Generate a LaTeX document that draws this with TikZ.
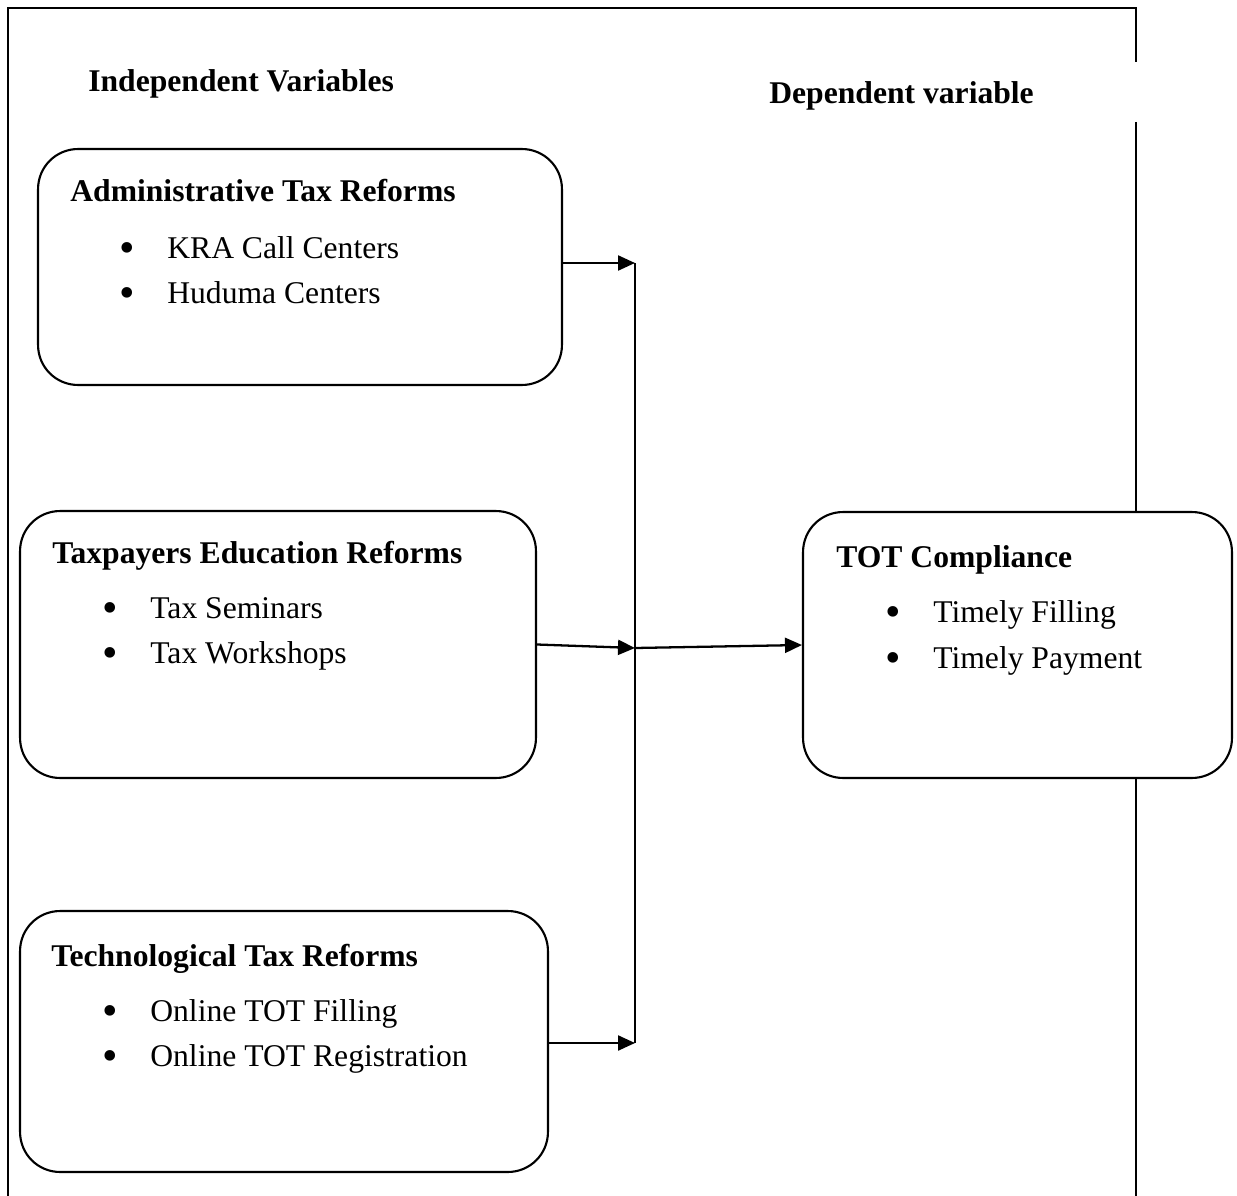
\documentclass[tikz,border=0pt]{standalone}
\usepackage{fontspec}
\setmainfont{Liberation Serif}
\usetikzlibrary{arrows.meta}
\newcommand{\blt}{\makebox[0.96cm][l]{\raisebox{-2.5pt}{\scalebox{1.4}{\textbullet}}}}
\begin{document}
\begin{tikzpicture}[x=0.02cm,y=-0.02cm,
  every node/.style={font=\fontsize{18}{22}\selectfont, inner sep=0pt},
  varbox/.style={draw, line width=1.2pt, rounded corners=0.8cm, fill=white},
  heading/.style={anchor=base west, font=\fontsize{18}{22}\selectfont\bfseries},
  item/.style={anchor=base west},
  arr/.style={-{Triangle[length=0.34cm,width=0.3cm]}, line width=1.3pt}]
\useasboundingbox (0,0) rectangle (1237,1196);

\draw[line width=1.4pt] (1136,62) -- (1136,8) -- (8,8) -- (8,1196);
\draw[line width=1.4pt] (1136,122) -- (1136,1196);

\node[heading] (indep) at (88,92) {Independent Variables};
\node[heading] (dep) at (769,104) {Dependent variable};

\node[varbox, minimum width=10.48cm, minimum height=4.72cm] (adm) at (300,267) {};
\node[heading] (admT) at (70,202) {Administrative Tax Reforms};
\node[item] (admA) at (119,258) {\blt KRA Call Centers};
\node[item] (admB) at (119,303) {\blt Huduma Centers};

\node[varbox, minimum width=10.32cm, minimum height=5.34cm] (edu) at (278,644.5) {};
\node[heading] (eduT) at (52,563) {Taxpayers Education Reforms};
\node[item] (eduA) at (102,618) {\blt Tax Seminars};
\node[item] (eduB) at (102,663) {\blt Tax Workshops};

\node[varbox, minimum width=10.56cm, minimum height=5.22cm] (tech) at (284,1041.5) {};
\node[heading] (techT) at (51,966) {Technological Tax Reforms};
\node[item] (techA) at (102,1021) {\blt Online TOT Filling};
\node[item] (techB) at (102,1066) {\blt Online TOT Registration};

\node[varbox, minimum width=8.58cm, minimum height=5.32cm] (tot) at (1017.5,645) {};
\node[heading] (totT) at (836,567) {TOT Compliance};
\node[item] (totA) at (885,622) {\blt Timely Filling};
\node[item] (totB) at (885,668) {\blt Timely Payment};

\coordinate (jtop) at (635,263);
\coordinate (jmid) at (635,648);
\coordinate (jbot) at (635,1043);
\draw[line width=1.3pt] (jtop) -- (jbot);
\draw[arr] (adm.east |- jtop) -- (jtop);
\draw[arr] (edu.east) -- (jmid);
\draw[arr] (jmid) -- (tot.west);
\draw[arr] (tech.east |- jbot) -- (jbot);
\end{tikzpicture}
\end{document}
